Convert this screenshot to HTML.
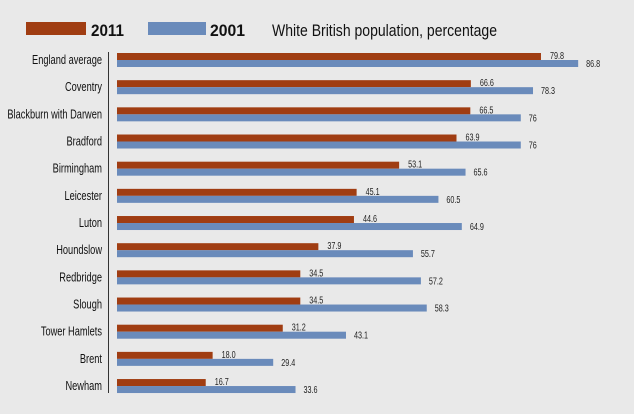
<!DOCTYPE html><html><head><style>
body{margin:0;background:#e9e9e9;}
svg{display:block;font-family:"Liberation Sans",sans-serif;}
</style></head><body>
<svg width="634" height="414" viewBox="0 0 634 414">
<rect width="634" height="414" fill="#e9e9e9"/>
<rect x="26" y="22" width="60" height="13" fill="#a03d12"/>
<text x="91" y="36" font-size="17" font-weight="bold" fill="#111" textLength="33" lengthAdjust="spacingAndGlyphs">2011</text>
<rect x="148" y="22" width="58" height="13" fill="#6a8bbb"/>
<text x="210" y="36" font-size="17" font-weight="bold" fill="#111" textLength="35" lengthAdjust="spacingAndGlyphs">2001</text>
<text x="272" y="36" font-size="17" fill="#111" textLength="225" lengthAdjust="spacingAndGlyphs">White British population, percentage</text>
<line x1="108.5" y1="52" x2="108.5" y2="393" stroke="#333" stroke-width="1"/>
<g id="rows"></g>
</svg>
<script>
var d=[["England average",79.8,86.8,"79.8","86.8"],["Coventry",66.6,78.3,"66.6","78.3"],["Blackburn with Darwen",66.5,76,"66.5","76"],["Bradford",63.9,76,"63.9","76"],["Birmingham",53.1,65.6,"53.1","65.6"],["Leicester",45.1,60.5,"45.1","60.5"],["Luton",44.6,64.9,"44.6","64.9"],["Houndslow",37.9,55.7,"37.9","55.7"],["Redbridge",34.5,57.2,"34.5","57.2"],["Slough",34.5,58.3,"34.5","58.3"],["Tower Hamlets",31.2,43.1,"31.2","43.1"],["Brent",18.0,29.4,"18.0","29.4"],["Newham",16.7,33.6,"16.7","33.6"]];
var g=document.getElementById("rows"),h="",s=5.313,x0=117;
d.forEach(function(r,i){var y=53+i*27.17;var w1=r[1]*s,w2=r[2]*s;
h+='<rect x="'+x0+'" y="'+y+'" width="'+w1+'" height="7" fill="#a03d12"/>';
h+='<rect x="'+x0+'" y="'+(y+7)+'" width="'+w2+'" height="7" fill="#6a8bbb"/>';
h+='<text class="lab" x="102" y="'+(y+11)+'" font-size="12.5" fill="#111" text-anchor="end">'+r[0]+'</text>';
h+='<text class="val" x="'+(x0+w1+9)+'" y="'+(y+6)+'" font-size="10" fill="#222">'+r[3]+'</text>';
h+='<text class="val" x="'+(x0+w2+8)+'" y="'+(y+14)+'" font-size="10" fill="#222">'+r[4]+'</text>';
});
g.innerHTML=h;
document.querySelectorAll("text.lab").forEach(function(t){var n=t.getComputedTextLength();t.setAttribute("textLength",n*0.74);t.setAttribute("lengthAdjust","spacingAndGlyphs");});
document.querySelectorAll("text.val").forEach(function(t){var n=t.getComputedTextLength();t.setAttribute("textLength",n*0.72);t.setAttribute("lengthAdjust","spacingAndGlyphs");});
</script>
</body></html>
